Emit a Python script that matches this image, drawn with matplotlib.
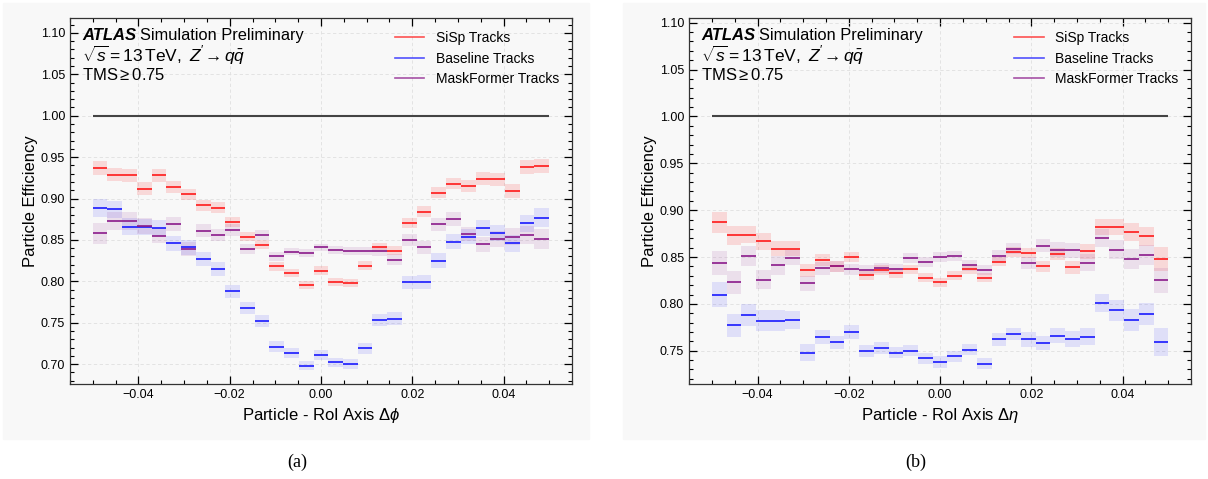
import numpy as np
import matplotlib.pyplot as plt
from matplotlib.lines import Line2D
from matplotlib.patches import Rectangle
from matplotlib.ticker import MultipleLocator

plt.rcParams['font.family'] = ['Liberation Sans', 'DejaVu Sans']
plt.rcParams['mathtext.fontset'] = 'custom'
plt.rcParams['mathtext.rm'] = 'Liberation Sans'
plt.rcParams['mathtext.it'] = 'Liberation Sans:italic'
plt.rcParams['mathtext.bf'] = 'Liberation Sans:bold'

# 31 bins between -0.05 and 0.05
edges = np.linspace(-0.05, 0.05, 32)

# panel (a): particle - RoI axis delta phi
sisp_phi = [0.937, 0.929, 0.928, 0.912, 0.928, 0.914, 0.905, 0.892, 0.889, 0.872, 0.854,
            0.844, 0.818, 0.810, 0.796, 0.813, 0.799, 0.798, 0.819, 0.841, 0.837, 0.870,
            0.884, 0.907, 0.918, 0.915, 0.924, 0.923, 0.909, 0.938, 0.939]
base_phi = [0.889, 0.887, 0.866, 0.866, 0.864, 0.846, 0.841, 0.827, 0.815, 0.788, 0.768,
            0.752, 0.721, 0.714, 0.698, 0.711, 0.702, 0.700, 0.719, 0.753, 0.755, 0.799,
            0.799, 0.825, 0.848, 0.854, 0.864, 0.858, 0.846, 0.870, 0.877]
mask_phi = [0.858, 0.873, 0.873, 0.867, 0.855, 0.869, 0.839, 0.861, 0.856, 0.862, 0.839,
            0.856, 0.830, 0.836, 0.834, 0.841, 0.838, 0.837, 0.837, 0.837, 0.826, 0.850,
            0.841, 0.869, 0.875, 0.857, 0.845, 0.851, 0.854, 0.856, 0.851]
sisp_phi_err = [0.0085, 0.008, 0.008, 0.0078, 0.0076, 0.0074, 0.007, 0.0066, 0.0064, 0.006, 0.0057,
                0.0054, 0.005, 0.005, 0.005, 0.005, 0.005, 0.005, 0.005, 0.0054, 0.0057, 0.006,
                0.0064, 0.0066, 0.007, 0.0074, 0.0076, 0.0078, 0.008, 0.008, 0.0085]
base_phi_err = [0.011, 0.0105, 0.01, 0.0098, 0.0095, 0.0092, 0.009, 0.0087, 0.0085, 0.008, 0.0075,
                0.007, 0.0066, 0.006, 0.0056, 0.0056, 0.0056, 0.006, 0.0066, 0.007, 0.0075, 0.008,
                0.0085, 0.0087, 0.009, 0.0092, 0.0095, 0.0098, 0.01, 0.0105, 0.011]
mask_phi_err = [0.0125, 0.011, 0.0105, 0.01, 0.009, 0.0088, 0.0083, 0.008, 0.0077, 0.007, 0.0065,
                0.006, 0.005, 0.0048, 0.0046, 0.0046, 0.0046, 0.0048, 0.005, 0.006, 0.0065, 0.007,
                0.0077, 0.008, 0.0083, 0.0088, 0.009, 0.01, 0.0105, 0.011, 0.0125]

# panel (b): particle - RoI axis delta eta
sisp_eta = [0.887, 0.873, 0.874, 0.867, 0.859, 0.859, 0.836, 0.847, 0.840, 0.850, 0.831,
            0.836, 0.833, 0.837, 0.828, 0.823, 0.830, 0.837, 0.828, 0.845, 0.855, 0.854,
            0.840, 0.853, 0.839, 0.856, 0.882, 0.882, 0.877, 0.872, 0.848]
base_eta = [0.810, 0.777, 0.788, 0.782, 0.782, 0.783, 0.748, 0.765, 0.759, 0.770, 0.750,
            0.753, 0.748, 0.750, 0.742, 0.738, 0.744, 0.751, 0.736, 0.762, 0.768, 0.762,
            0.758, 0.766, 0.763, 0.765, 0.801, 0.793, 0.783, 0.789, 0.759]
mask_eta = [0.844, 0.823, 0.851, 0.826, 0.841, 0.849, 0.822, 0.838, 0.840, 0.837, 0.836,
            0.838, 0.837, 0.849, 0.845, 0.850, 0.851, 0.841, 0.836, 0.851, 0.859, 0.844,
            0.862, 0.858, 0.857, 0.844, 0.870, 0.858, 0.848, 0.852, 0.825]
sisp_eta_err = [0.011, 0.01, 0.0095, 0.009, 0.0083, 0.0078, 0.007, 0.0065, 0.0058, 0.0055, 0.0052,
                0.005, 0.005, 0.005, 0.005, 0.005, 0.005, 0.005, 0.005, 0.005, 0.0052, 0.0055,
                0.0058, 0.0065, 0.007, 0.0078, 0.0083, 0.009, 0.0095, 0.01, 0.0124]
base_eta_err = [0.0135, 0.012, 0.0115, 0.011, 0.011, 0.0095, 0.009, 0.0075, 0.0067, 0.0075, 0.0065,
                0.0065, 0.006, 0.006, 0.006, 0.006, 0.006, 0.006, 0.006, 0.0065, 0.0065, 0.0075,
                0.0075, 0.008, 0.0085, 0.009, 0.0095, 0.011, 0.012, 0.0115, 0.015]
mask_eta_err = [0.0128, 0.012, 0.011, 0.0105, 0.0097, 0.008, 0.008, 0.007, 0.006, 0.006, 0.0055,
                0.0055, 0.0055, 0.0055, 0.0055, 0.0055, 0.0055, 0.0055, 0.0055, 0.006, 0.006, 0.0065,
                0.007, 0.0075, 0.008, 0.009, 0.0095, 0.0105, 0.011, 0.0105, 0.013]

labels = ["SiSp Tracks", "Baseline Tracks", "MaskFormer Tracks"]
colors = ["#ff1a1a", "#1a1aff", "#8a1a8a"]
band_alpha = [0.14, 0.11, 0.11]

panels = [
    dict(series=[sisp_phi, base_phi, mask_phi], errs=[sisp_phi_err, base_phi_err, mask_phi_err],
         xlabel=r"Particle - RoI Axis $\Delta\phi$", ylim=(0.676, 1.118), tag="(a)"),
    dict(series=[sisp_eta, base_eta, mask_eta], errs=[sisp_eta_err, base_eta_err, mask_eta_err],
         xlabel=r"Particle - RoI Axis $\Delta\eta$", ylim=(0.7145, 1.105), tag="(b)"),
]

fig = plt.figure(figsize=(12.08, 4.79), dpi=100)
bg = "#f8f8f8"
fig.patches.append(Rectangle((0.0025, 0.0835), 0.4851, 0.910, transform=fig.transFigure,
                             color=bg, zorder=-10))
fig.patches.append(Rectangle((0.5157, 0.0835), 0.4818, 0.910, transform=fig.transFigure,
                             color=bg, zorder=-10))

lefts = [0.0579, 0.5704]
centers = 0.5 * (edges[:-1] + edges[1:])
width = edges[1] - edges[0]

for left, p in zip(lefts, panels):
    ax = fig.add_axes([left, 0.1983, 0.4156, 0.7641])
    ax.set_facecolor(bg)
    ax.set_axisbelow(True)
    for vals, err, c, a in zip(p["series"], p["errs"], colors, band_alpha):
        vals = np.array(vals)
        err = np.array(err)
        ax.bar(centers, 2 * err, bottom=vals - err, width=width, color=c, alpha=a,
               linewidth=0, zorder=2)
        ax.hlines(vals, edges[:-1], edges[1:], color=c, lw=1.2, zorder=3)
    ax.hlines(1.0, edges[0], edges[-1], color="#444444", lw=1.5, zorder=3)

    ax.set_xlim(-0.055, 0.055)
    ax.set_ylim(*p["ylim"])
    ax.xaxis.set_major_locator(MultipleLocator(0.02))
    ax.xaxis.set_minor_locator(MultipleLocator(0.005))
    ax.yaxis.set_major_locator(MultipleLocator(0.05))
    ax.yaxis.set_minor_locator(MultipleLocator(0.01))
    ax.tick_params(which="both", direction="in", top=True, right=True, labelsize=9)
    ax.tick_params(which="major", length=6, width=0.9)
    ax.tick_params(which="minor", length=3, width=0.8)
    for s in ax.spines.values():
        s.set_linewidth(0.9)
        s.set_color("#333333")
    ax.grid(True, which="major", ls=(0, (4, 3)), lw=0.6, color="#e0e0e0")
    ax.set_xlabel(p["xlabel"], fontsize=12)
    ax.set_ylabel("Particle Efficiency", fontsize=12, labelpad=2)

    ax.text(0.024, 0.94, "ATLAS", transform=ax.transAxes, fontsize=12, va="baseline",
            ha="left", fontweight="bold", fontstyle="italic")
    ax.text(0.139, 0.94, "Simulation Preliminary", transform=ax.transAxes,
            fontsize=11.8, va="baseline", ha="left")
    ax.text(0.024, 0.88, r"$\sqrt{s}=13\,\mathrm{TeV},\ Z'\!\rightarrow q\bar{q}$",
            transform=ax.transAxes, fontsize=12.5, va="baseline", ha="left")
    ax.text(0.024, 0.831, r"TMS$\geq$0.75", transform=ax.transAxes,
            fontsize=12, va="baseline", ha="left")

    handles = [Line2D([], [], color=c, lw=1.2, alpha=0.75) for c in colors]
    ax.legend(handles, labels, loc="upper right", frameon=False, fontsize=10,
              handlelength=2.1, handletextpad=0.8, labelspacing=0.47,
              borderaxespad=0.55)

    fig.text(left + 0.4156 / 2 - 0.02, 0.035, p["tag"], ha="center", va="center",
             fontsize=13, family="Liberation Serif")

fig.savefig("out.png", dpi=100)
